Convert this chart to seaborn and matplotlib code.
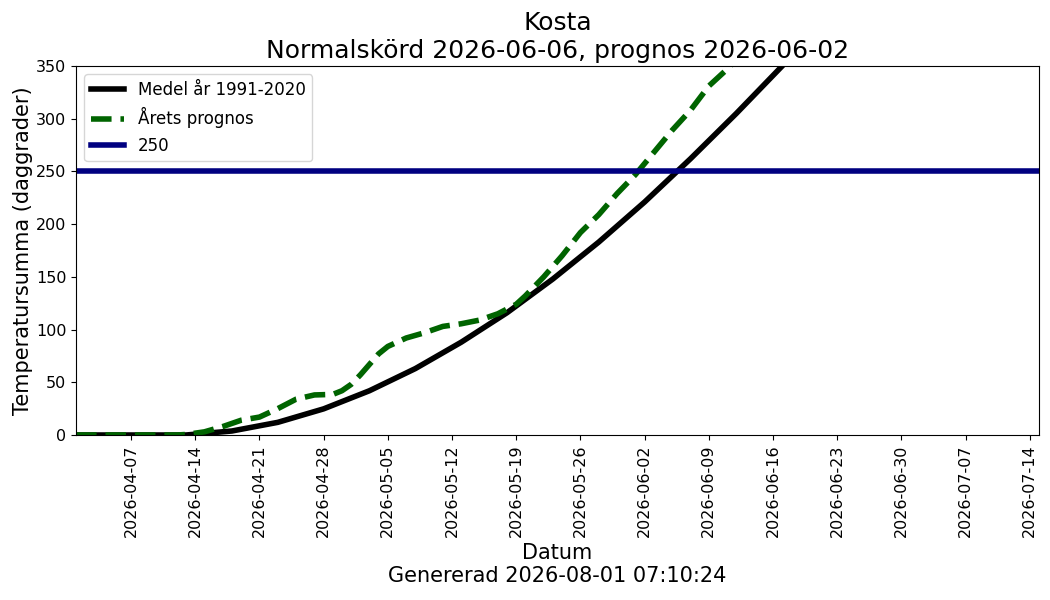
import matplotlib
matplotlib.use("Agg")
import matplotlib.pyplot as plt
import matplotlib.dates as mdates
import seaborn as sns
import pandas as pd

# Normal (1991-2020) temperature sum
normal_dates = ["2026-04-01", "2026-04-08", "2026-04-13", "2026-04-18", "2026-04-23", "2026-04-28",
                "2026-05-03", "2026-05-08", "2026-05-13", "2026-05-18", "2026-05-23", "2026-05-28",
                "2026-06-02", "2026-06-07", "2026-06-12", "2026-06-17", "2026-06-22"]
normal_values = [0, 0, 0, 3.8, 12, 24.8,
                 42, 63, 88, 116, 148, 183,
                 221, 262, 305, 350, 397]

# This year's forecast
forecast_dates = ["2026-04-01", "2026-04-08", "2026-04-12", "2026-04-13", "2026-04-15", "2026-04-17",
                  "2026-04-19", "2026-04-21", "2026-04-23", "2026-04-25", "2026-04-27", "2026-04-29",
                  "2026-04-30", "2026-05-01", "2026-05-02", "2026-05-03", "2026-05-04", "2026-05-05",
                  "2026-05-07", "2026-05-09", "2026-05-11", "2026-05-13", "2026-05-15", "2026-05-17",
                  "2026-05-19", "2026-05-20", "2026-05-22", "2026-05-24", "2026-05-26", "2026-05-28",
                  "2026-05-30", "2026-06-01", "2026-06-03", "2026-06-05", "2026-06-07", "2026-06-09",
                  "2026-06-11", "2026-06-13"]
forecast_values = [0, 0, 0, 0.5, 3, 8,
                   14, 17, 25, 34, 38, 38.5,
                   42, 48, 57, 67, 77, 84,
                   92, 97, 103, 105.5, 109, 115,
                   124, 132, 150, 170, 192, 209,
                   229, 247, 268, 289, 308, 331,
                   347, 365]

threshold = 250
title_text = "Kosta\nNormalskörd 2026-06-06, prognos 2026-06-02"
xlabel_text = "Datum\nGenererad 2026-08-01 07:10:24"
ylabel_text = "Temperatursumma (daggrader)"
legend_labels = ["Medel år 1991-2020", "Årets prognos", "250"]

df_normal = pd.DataFrame({"date": pd.to_datetime(normal_dates), "value": normal_values})
df_fc = pd.DataFrame({"date": pd.to_datetime(forecast_dates), "value": forecast_values})

fig, ax = plt.subplots(figsize=(10.5, 6), dpi=100)
fig.subplots_adjust(left=0.0724, right=0.9895, top=0.89, bottom=0.275)

sns.lineplot(data=df_normal, x="date", y="value", ax=ax, color="black", linewidth=4,
             label=legend_labels[0])
sns.lineplot(data=df_fc, x="date", y="value", ax=ax, color="darkgreen", linewidth=4,
             linestyle="--", label=legend_labels[1])
ax.axhline(threshold, color="navy", linewidth=4, label=legend_labels[2])

ax.set_xlim(pd.Timestamp("2026-04-01"), pd.Timestamp("2026-07-15"))
ax.set_ylim(0, 350)
ticks = pd.date_range("2026-04-07", "2026-07-14", freq="7D")
ax.set_xticks(ticks)
ax.xaxis.set_major_formatter(mdates.DateFormatter("%Y-%m-%d"))
ax.tick_params(axis="x", labelrotation=90, labelsize=11.5)
ax.tick_params(axis="y", labelsize=11.5)

ax.set_title(title_text, fontsize=18)
ax.set_xlabel(xlabel_text, fontsize=15)
ax.set_ylabel(ylabel_text, fontsize=15, labelpad=2)
ax.legend(loc="upper left", fontsize=12)

fig.savefig("out.png", dpi=100)
